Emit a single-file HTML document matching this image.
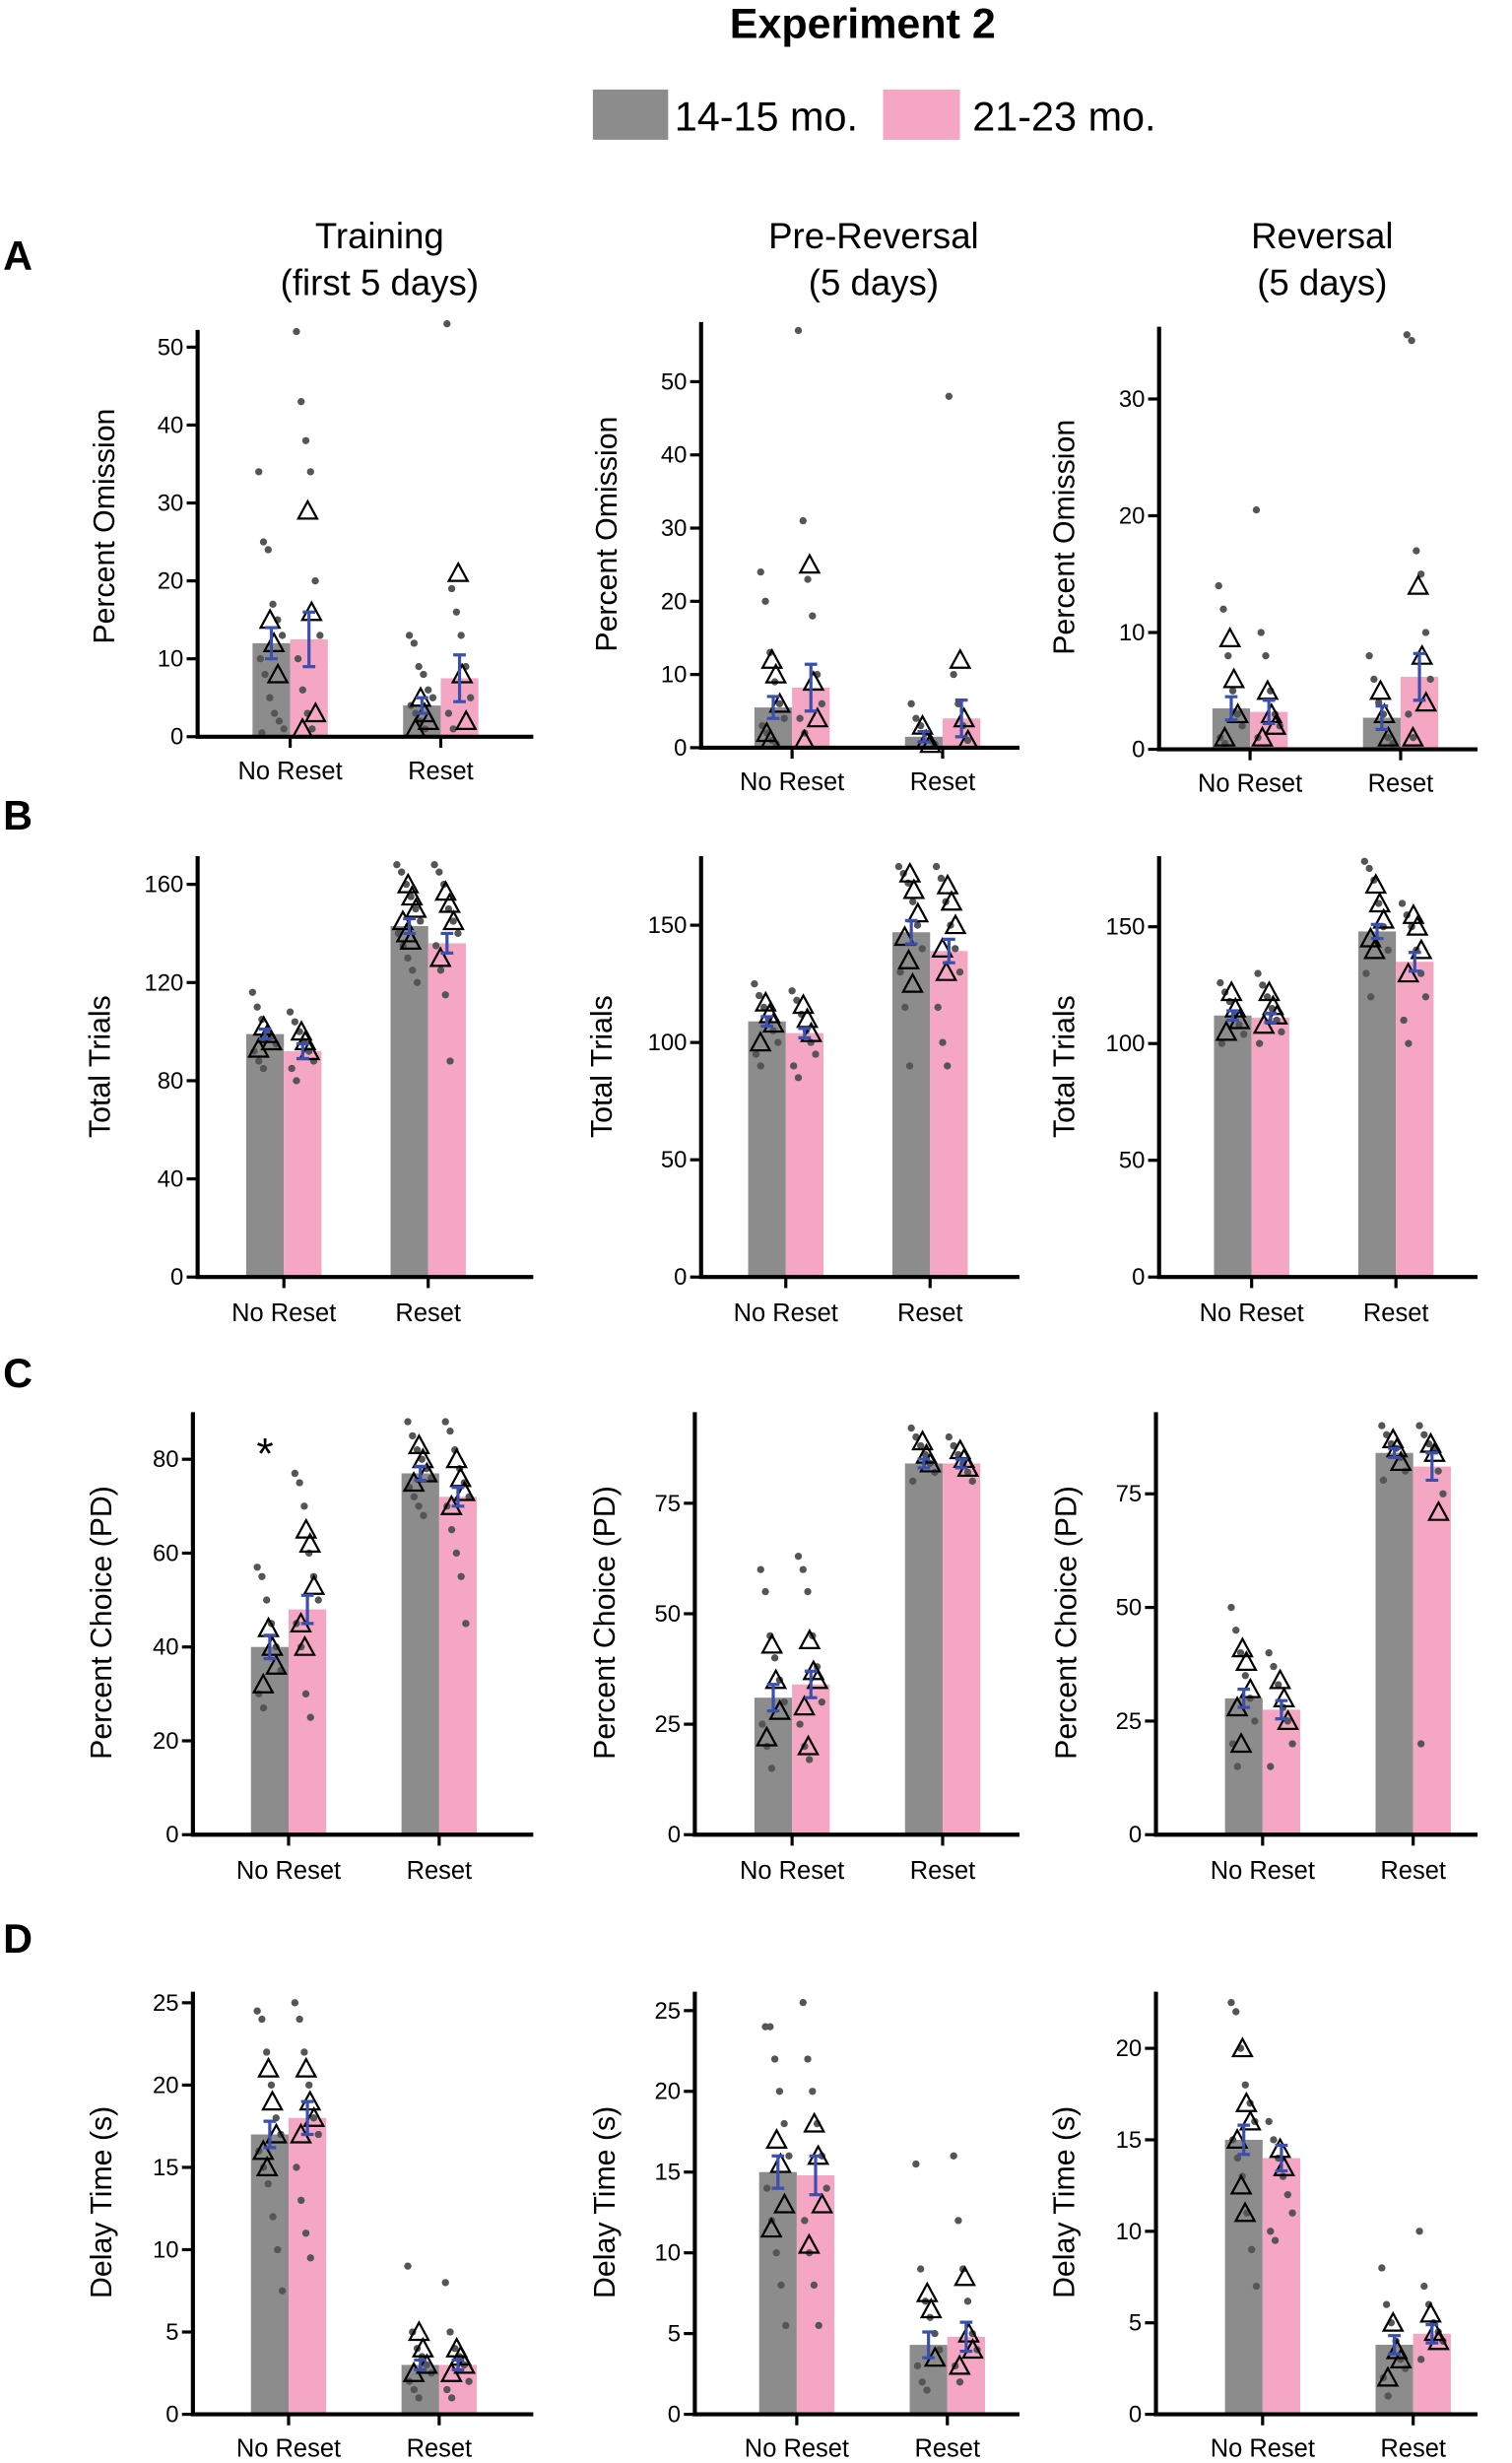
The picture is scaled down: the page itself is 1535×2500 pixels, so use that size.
<!DOCTYPE html>
<html><head><meta charset="utf-8"><style>
html,body{margin:0;padding:0;background:#fff}
svg{display:block;font-family:"Liberation Sans",sans-serif}
</style></head><body>
<svg id="chart" width="1535" height="2500" viewBox="0 0 964 1568" preserveAspectRatio="none" xmlns="http://www.w3.org/2000/svg">
<text x="550" y="24" font-size="27" font-weight="bold" text-anchor="middle">Experiment 2</text>
<g>
<rect x="378" y="57" width="48" height="32" fill="#8c8c8c"/>
<text x="430" y="83" font-size="26">14-15 mo.</text>
<rect x="563" y="57" width="49" height="32" fill="#f4a6c3"/>
<text x="620" y="83" font-size="26">21-23 mo.</text>
</g>
<text x="2" y="172" font-size="26" font-weight="bold">A</text>
<text x="2" y="528" font-size="26" font-weight="bold">B</text>
<text x="2" y="883" font-size="26" font-weight="bold">C</text>
<text x="2" y="1243" font-size="26" font-weight="bold">D</text>
<g font-size="23" text-anchor="middle">
<text x="242" y="158">Training</text>
<text x="242" y="188">(first 5 days)</text>
<text x="557" y="158">Pre-Reversal</text>
<text x="557" y="188">(5 days)</text>
<text x="843" y="158">Reversal</text>
<text x="843" y="188">(5 days)</text>
</g>
<text x="169" y="935" font-size="28" text-anchor="middle">*</text>
</svg>
<script>
const categories = ["No Reset","Reset"];
const groups = ["14-15 mo.","21-23 mo."];
// means [NR-gray, NR-pink, R-gray, R-pink]
const meanA1=[12,12.5,4,7.5], semA1=[2,3.5,1,3];
const meanA2=[5.5,8.2,1.5,4], semA2=[1.5,3.2,0.7,2.5];
const meanA3=[3.5,3.2,2.7,6.2], semA3=[1,1,1,2];
const meanB1=[99,92,143,136], semB1=[2,3,3,4];
const meanB2=[109,104,147,139], semB2=[2,2,5,5];
const meanB3=[112,111,148,135], semB3=[2,2,3,4];
const meanC1=[40,48,77,72], semC1=[2.5,3,1.5,2];
const meanC2=[31,34,84,84], semC2=[3,3,1,1];
const meanC3=[30,27.5,84,81], semC3=[2,2,1,3];
const meanD1=[17,18,3,3], semD1=[0.8,1,0.3,0.3];
const meanD2=[15,14.8,4.3,4.8], semD2=[1,1.2,0.8,0.9];
const meanD3=[15,14,3.8,4.4], semD3=[0.8,0.7,0.5,0.5];
const dotsA1=[[34,25,24,17,15,13,10,8,5,3,2,1,0.5],[52,43,38,34,20,13,10,6,3,1],[13,12,9,8,6,5,4,3,2,1],[53,19,16,13,9,5,3,1]];
const triA1=[[15,12,8],[29,16,3,1],[5,3,2,1],[21,8,2]];
const dotsA2=[[24,20,13,9,6,4,3,2,1,0.5],[57,31,23,18,10,6,4,2],[6,4,3,2,1,0.5],[48,10,6,3,1]];
const triA2=[[12,10,6,2,1],[25,9,4,1],[3,1,0.5],[12,4,1]];
const dotsA3=[[14,12,8,5,3,2,1,0.5],[20.5,10,8,5,3,2,1],[8,6,4,3,1,0.5],[35.5,35,17,15,10,6,3,1]];
const triA3=[[9.5,6,3,1],[5,3,2,1],[5,3,1],[14,8,4,1]];
const dotsB1=[[116,110,105,100,98,95,92,88,85],[108,104,100,96,92,88,85,80],[168,165,160,155,150,145,140,135,130,125,120],[168,165,160,150,145,140,135,125,115,88]];
const triB1=[[102,99,96,93],[100,96,92],[160,155,150,145,140,137],[157,152,145,130]];
const dotsB2=[[125,120,115,110,105,100,95,90],[122,118,112,105,100,95,90,85],[175,172,168,160,150,140,130,115,90],[175,170,160,150,140,130,115,100,90]];
const triB2=[[117,112,108,100],[116,110,104],[172,165,155,145,135,125],[167,160,150,140,130]];
const dotsB3=[[126,122,118,112,108,104,100],[130,125,120,115,110,105,100],[178,175,170,160,150,140,130,120],[160,155,150,140,130,120,110,100]];
const triB3=[[122,115,110,105],[122,116,112,108],[168,160,153,145,140],[155,150,140,130]];
const dotsC1=[[57,55,50,45,40,35,30,27],[77,75,70,60,55,50,45,40,30,25],[88,85,82,80,78,76,74,72,70,68],[88,86,82,78,75,72,70,65,60,55,45]];
const triC1=[[44,40,36,32],[65,62,53,45,40],[83,80,77,75],[80,76,73,70]];
const dotsC2=[[60,55,45,40,35,30,25,20,15],[63,60,55,45,38,30,25,20,17],[92,90,88,86,84,82,80],[90,88,86,84,82,80]];
const triC2=[[43,35,28,22],[44,37,35,29,20],[89,86,84],[87,85,83]];
const dotsC3=[[50,45,40,35,30,25,20,15],[40,37,33,28,25,20,15],[90,88,86,85,83,80,78],[90,88,86,85,80,75,20]];
const triC3=[[41,38,32,28,20],[34,30,25],[87,85,82],[86,84,71]];
const dotsD1=[[24.5,24,22,20,18,17,16,15,14,12,10,7.5],[25,24,22,20,18,17,15,13,11,9.5],[9,5,4,3.5,3,2.5,2,1.5,1],[8,5,4,3.5,3,2,1.5,1]];
const triD1=[[21,19,17,16,15],[21,19,18,17],[5,4,3,2.5],[4,3.5,3,2.5]];
const dotsD2=[[24,24,22,20,18,16,14,12,10,8,5.5],[25.5,22,20,18,16,14,12,10,8,5.5],[15.5,9,7,6,5,4,3,2,1.5],[16,12,9,7,5,4,3,2]];
const triD2=[[17,15.5,13,11.5],[18,16,13,10.5],[7.5,6.5,3.5],[8.5,5,4,3]];
const dotsD3=[[22.5,22,20,18,17,16,15,14,13,11,9,7],[16,15,14,13,12,11,10,9.5],[8,6,5,4,3,2.5,2,1],[10,7,6,5,4.5,4,3]];
const triD3=[[20,17,16,15,12.5,11],[14.5,13.5],[5,3.5,3,2],[5.5,4.5,4]];
const ticksA12=[0,10,20,30,40,50], ticksA3=[0,10,20,30];
const ticksB1=[0,40,80,120,160], ticksB23=[0,50,100,150];
const ticksC1=[0,20,40,60,80], ticksC23=[0,25,50,75];
const ticksD12=[0,5,10,15,20,25], ticksD3=[0,5,10,15,20];

const NS="http://www.w3.org/2000/svg";
const svg=document.getElementById('chart');
function mk(tag,attrs,parent){const e=document.createElementNS(NS,tag);for(const k in attrs)e.setAttribute(k,attrs[k]);(parent||svg).appendChild(e);return e;}

// layout: ax=y-axis x, y0=pixel of 0, vRef/yRef=reference tick, top, xEnd, bars=left edges of 4 bars, ly=label y, yl=[ylabel x, ylabel y]
const panels=[
 {id:'a1',ax:126,y0:469,vRef:50,yRef:221,top:210,xEnd:340,bars:[161,185,257,281],ly:496,ticks:ticksA12,mean:meanA1,sem:semA1,dots:dotsA1,tri:triA1,label:'Percent Omission',yl:[73,335]},
 {id:'a2',ax:447,y0:476,vRef:50,yRef:243,top:205,xEnd:650,bars:[481,505,577,601],ly:503,ticks:ticksA12,mean:meanA2,sem:semA2,dots:dotsA2,tri:triA2,label:'Percent Omission',yl:[393,340]},
 {id:'a3',ax:739,y0:477,vRef:30,yRef:254,top:208,xEnd:942,bars:[773,797,869,893],ly:504,ticks:ticksA3,mean:meanA3,sem:semA3,dots:dotsA3,tri:triA3,label:'Percent Omission',yl:[685,342]},
 {id:'b1',ax:126,y0:813,vRef:160,yRef:563,top:545,xEnd:340,bars:[157,181,249,273],ly:841,ticks:ticksB1,mean:meanB1,sem:semB1,dots:dotsB1,tri:triB1,label:'Total Trials',yl:[70,679]},
 {id:'b2',ax:447,y0:813,vRef:150,yRef:589,top:545,xEnd:650,bars:[477,501,569,593],ly:841,ticks:ticksB23,mean:meanB2,sem:semB2,dots:dotsB2,tri:triB2,label:'Total Trials',yl:[390,679]},
 {id:'b3',ax:739,y0:813,vRef:150,yRef:590,top:545,xEnd:942,bars:[774,798,866,890],ly:841,ticks:ticksB23,mean:meanB3,sem:semB3,dots:dotsB3,tri:triB3,label:'Total Trials',yl:[685,679]},
 {id:'c1',ax:123,y0:1168,vRef:80,yRef:929,top:899,xEnd:340,bars:[160,184,256,280],ly:1196,ticks:ticksC1,mean:meanC1,sem:semC1,dots:dotsC1,tri:triC1,label:'Percent Choice (PD)',yl:[71,1033]},
 {id:'c2',ax:443,y0:1168,vRef:75,yRef:957,top:899,xEnd:650,bars:[481,505,577,601],ly:1196,ticks:ticksC23,mean:meanC2,sem:semC2,dots:dotsC2,tri:triC2,label:'Percent Choice (PD)',yl:[392,1033]},
 {id:'c3',ax:737,y0:1168,vRef:75,yRef:951,top:899,xEnd:942,bars:[781,805,877,901],ly:1196,ticks:ticksC23,mean:meanC3,sem:semC3,dots:dotsC3,tri:triC3,label:'Percent Choice (PD)',yl:[686,1033]},
 {id:'d1',ax:123,y0:1537,vRef:25,yRef:1275,top:1268,xEnd:340,bars:[160,184,256,280],ly:1564,ticks:ticksD12,mean:meanD1,sem:semD1,dots:dotsD1,tri:triD1,label:'Delay Time (s)',yl:[71,1402]},
 {id:'d2',ax:443,y0:1537,vRef:25,yRef:1280,top:1268,xEnd:650,bars:[484,508,580,604],ly:1564,ticks:ticksD12,mean:meanD2,sem:semD2,dots:dotsD2,tri:triD2,label:'Delay Time (s)',yl:[392,1402]},
 {id:'d3',ax:737,y0:1537,vRef:20,yRef:1304,top:1268,xEnd:942,bars:[781,805,877,901],ly:1564,ticks:ticksD3,mean:meanD3,sem:semD3,dots:dotsD3,tri:triD3,label:'Delay Time (s)',yl:[685,1402]}
];
const BW=24, colors=['#8c8c8c','#f4a6c3'];
panels.forEach(p=>{
 const g=mk('g',{});
 
 
 const y=v=>p.y0-(v/p.vRef)*(p.y0-p.yRef);
 for(let i=0;i<4;i++){
  const r=mk('rect',{x:p.bars[i],y:y(p.mean[i]),width:BW,height:p.y0-y(p.mean[i]),fill:colors[i%2]},g);
  
  
 }
 for(let i=0;i<4;i++){
  const cx=p.bars[i]+BW/2;
  p.dots[i].forEach((v,j)=>{
   const jx=(((j*37)%17)-8)/8*8;
   const c=mk('circle',{cx:cx+jx,cy:y(v),r:2.3,fill:'#555'},g);
   
   
  });
  p.tri[i].forEach((v,j)=>{
   const jx=(((j*29+5)%13)-6)/6*5;
   const tx=cx+jx, ty=y(v);
   const t=mk('polygon',{points:`${tx-6},${ty+5} ${tx+6},${ty+5} ${tx},${ty-6}`,fill:'none',stroke:'#000','stroke-width':1.4},g);
   
   
  });
  const yt=y(p.mean[i]+p.sem[i]), yb=y(Math.max(0,p.mean[i]-p.sem[i]));
  const e=mk('path',{d:`M${cx},${yt}V${yb}M${cx-4},${yt}H${cx+4}M${cx-4},${yb}H${cx+4}`,stroke:'#3a4fae','stroke-width':2,fill:'none'},g);
  
  
 }
 const ax=mk('path',{d:`M${p.ax},${p.top}V${p.y0}H${p.xEnd}`,stroke:'#000','stroke-width':2.6,fill:'none'},g);
 
 
 p.ticks.forEach(v=>{
  mk('line',{x1:p.ax-7,x2:p.ax,y1:y(v),y2:y(v),stroke:'#000','stroke-width':2},g);
  const t=mk('text',{x:p.ax-9,y:y(v)+5,'font-size':15,'text-anchor':'end'},g);
  t.textContent=v;
  
  
 });
 [0,1].forEach(k=>{
  const cx=p.bars[2*k]+BW;
  mk('line',{x1:cx,x2:cx,y1:p.y0,y2:p.y0+7,stroke:'#000','stroke-width':2},g);
  const t=mk('text',{x:cx,y:p.ly,'font-size':16,'text-anchor':'middle'},g);
  t.textContent=categories[k];
  
  
 });
 const yl=mk('text',{x:p.yl[0],y:p.yl[1],'font-size':19,'text-anchor':'middle',transform:`rotate(-90 ${p.yl[0]} ${p.yl[1]})`},g);
 yl.textContent=p.label;
 
 
});
</script>
</body></html>
